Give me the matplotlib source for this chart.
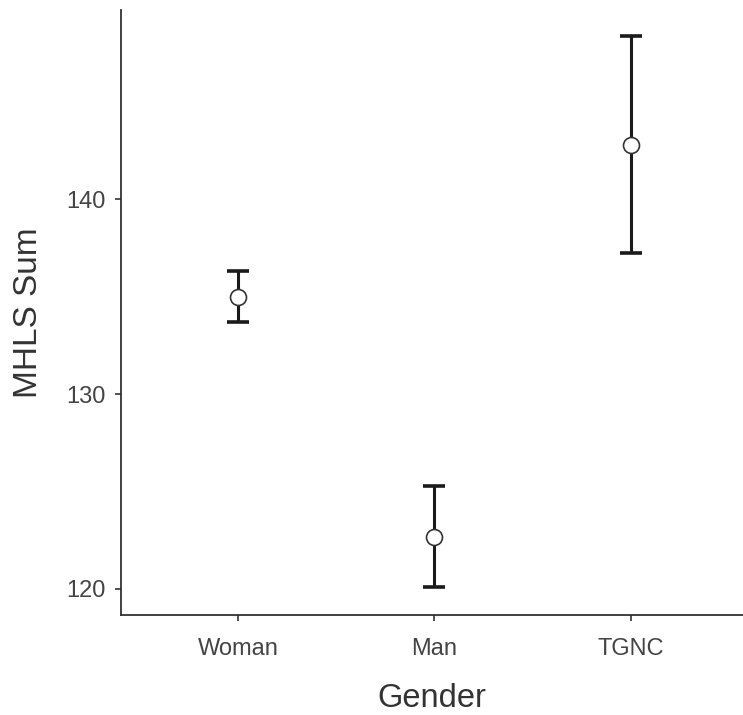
import numpy as np
import matplotlib
matplotlib.use("Agg")
import matplotlib.pyplot as plt

plt.rcParams['font.family'] = ['Liberation Sans', 'DejaVu Sans']

# Estimated means and CI bounds
genders = ["Woman", "Man", "TGNC"]
means = [134.97, 122.67, 142.77]
upper = [136.30, 125.28, 148.36]
lower = [133.70, 120.10, 137.23]


def main():
    fig = plt.figure(figsize=(7.43, 7.15), dpi=100)
    ax = fig.add_axes([0.163, 0.14, 0.837, 0.846])

    x = np.arange(len(genders))
    m = np.array(means)
    yerr = [m - np.array(lower), np.array(upper) - m]

    ax.errorbar(x, m, yerr=yerr, fmt='none', ecolor='#1a1a1a',
                elinewidth=2.2, capsize=8, capthick=2.6, zorder=2)
    ax.plot(x, m, 'o', markersize=11.5, markerfacecolor='white',
            markeredgecolor='#333333', markeredgewidth=1.2, zorder=3)

    ax.set_xlim(-0.594, 2.57)
    ax.set_ylim(118.67, 149.7)
    ax.set_xticks(x)
    ax.set_xticklabels(genders)
    ax.set_yticks([120, 130, 140])

    for side in ['top', 'right']:
        ax.spines[side].set_visible(False)
    for side in ['left', 'bottom']:
        ax.spines[side].set_color('#333333')
        ax.spines[side].set_linewidth(1.3)

    ax.tick_params(axis='both', colors='#333333', length=4.5, width=1.2,
                   labelsize=17, labelcolor='#444444')
    ax.tick_params(axis='x', pad=12)
    ax.tick_params(axis='y', pad=7)
    ax.set_xlabel('Gender', fontsize=23.5, color='#333333', labelpad=17)
    ax.set_ylabel('MHLS Sum', fontsize=24, color='#333333', labelpad=16)

    fig.savefig('out.png', dpi=100)


if __name__ == "__main__":
    main()
